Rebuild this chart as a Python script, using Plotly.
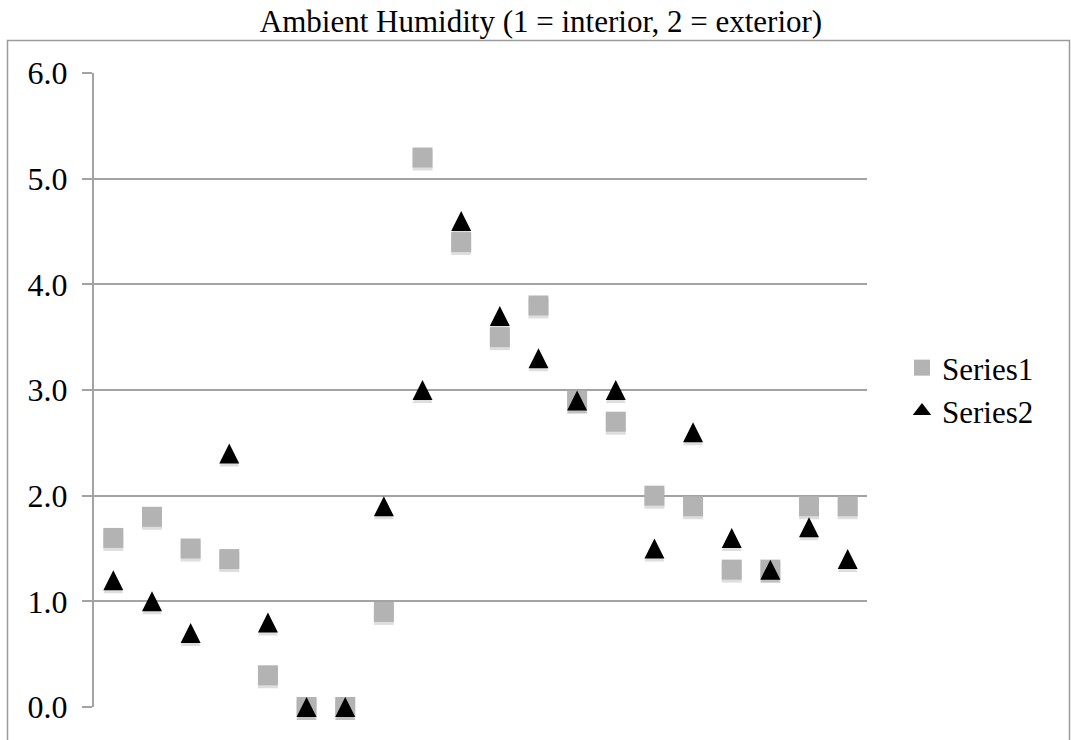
import plotly.graph_objects as go

# Sample positions along the horizontal axis (no labels are shown)
positions = list(range(1, 21))

# Humidity readings
series1 = [1.6, 1.8, 1.5, 1.4, 0.3, 0.0, 0.0, 0.9, 5.2, 4.4,
           3.5, 3.8, 2.9, 2.7, 2.0, 1.9, 1.3, 1.3, 1.9, 1.9]
series2 = [1.2, 1.0, 0.7, 2.4, 0.8, 0.0, 0.0, 1.9, 3.0, 4.6,
           3.7, 3.3, 2.9, 3.0, 1.5, 2.6, 1.6, 1.3, 1.7, 1.4]

y_ticks = [0, 1, 2, 3, 4, 5, 6]
y_tick_text = ["0.0", "1.0", "2.0", "3.0", "4.0", "5.0", "6.0"]

FONT = "Liberation Serif, Times New Roman, serif"
SQ = 20        # square marker size
TRI = 20       # triangle marker size
SHADOW = "rgba(0,0,0,0.13)"

fig = go.Figure()

# soft drop shadows beneath the markers
fig.add_trace(go.Scatter(
    x=positions, y=series1, mode="markers", showlegend=False, hoverinfo="skip",
    cliponaxis=False,
    marker=dict(symbol="square", size=SQ, color=SHADOW, standoff=3, line=dict(width=0)),
))
fig.add_trace(go.Scatter(
    x=positions, y=series2, mode="markers", showlegend=False, hoverinfo="skip",
    cliponaxis=False,
    marker=dict(symbol="arrow-down", size=TRI, angle=180, standoff=TRI / 2 - 3,
                color=SHADOW, line=dict(width=0)),
))

fig.add_trace(go.Scatter(
    x=positions, y=series1, mode="markers", name="Series1", cliponaxis=False,
    marker=dict(symbol="square", size=SQ, color="#b3b3b3", line=dict(width=0)),
))
# upward triangle centred on each point (arrow rotated, shifted by half its height)
fig.add_trace(go.Scatter(
    x=positions, y=series2, mode="markers", name="Series2", cliponaxis=False,
    showlegend=False,
    marker=dict(symbol="arrow-down", size=TRI, angle=180, standoff=TRI / 2,
                color="#000000", line=dict(width=0)),
))
# legend entry for Series2
fig.add_trace(go.Scatter(
    x=[None], y=[None], mode="markers", name="Series2",
    marker=dict(symbol="triangle-up", size=16, color="#000000", line=dict(width=0)),
))

# outer chart frame
L, R, T, B = 94, 867, 73, 707
W, H = 1071, 740
def px_x(p):
    return (p - L) / (R - L)
def px_y(p):
    return (B - p) / (B - T)

fig.add_shape(type="rect", xref="paper", yref="paper",
              x0=px_x(7.5), x1=px_x(1069.5), y0=px_y(760), y1=px_y(40.5),
              line=dict(color="#9c9c9c", width=1.5), fillcolor="rgba(0,0,0,0)",
              layer="below")

fig.update_layout(
    width=W, height=H,
    margin=dict(l=L, r=W - R, t=T, b=H - B, pad=0),
    paper_bgcolor="white", plot_bgcolor="white",
    font=dict(family=FONT, color="black", size=31),
    title=dict(text="Ambient Humidity (1 = interior, 2 = exterior)",
               font=dict(family=FONT, size=31, color="black"),
               x=541 / W, xref="container", xanchor="center",
               y=1 - 21 / H, yref="container", yanchor="middle"),
    xaxis=dict(range=[0.5, 20.5], showticklabels=False, showgrid=False,
               zeroline=False, showline=False, ticks=""),
    yaxis=dict(range=[0, 6], tickvals=y_ticks, ticktext=y_tick_text,
               showgrid=True, gridcolor="#a3a3a3", gridwidth=2,
               zeroline=False, showline=True, linecolor="#a3a3a3", linewidth=2,
               ticks="outside", ticklen=10, tickwidth=2, tickcolor="#a3a3a3",
               tickfont=dict(family=FONT, size=32, color="black"),
               ticklabelstandoff=8),
    legend=dict(x=(902 - L) / (R - L), xanchor="left",
                y=px_y(389.5), yanchor="middle",
                font=dict(family=FONT, size=31, color="black"),
                bgcolor="rgba(0,0,0,0)", itemwidth=30, tracegroupgap=0),
    showlegend=True,
)

fig.write_html("out.html")
